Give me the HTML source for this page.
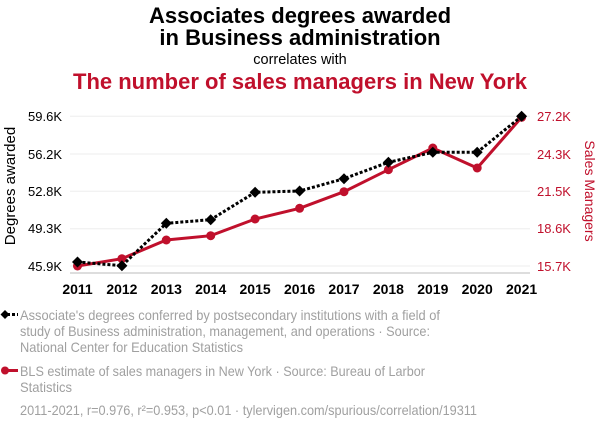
<!DOCTYPE html>
<html><head><meta charset="utf-8"><style>
body{margin:0;background:#fff;width:600px;height:430px;overflow:hidden}
svg text{font-family:"Liberation Sans",Arial,sans-serif}
</style></head><body>
<svg width="600" height="430" viewBox="0 0 600 430" xmlns="http://www.w3.org/2000/svg">
<text x="300" y="23" text-anchor="middle" font-size="22" font-weight="bold" fill="#000">Associates degrees awarded</text>
<text x="300" y="45" text-anchor="middle" font-size="22" font-weight="bold" fill="#000">in Business administration</text>
<text x="300" y="64" text-anchor="middle" font-size="14.5" fill="#000">correlates with</text>
<text x="300" y="89" text-anchor="middle" font-size="22" font-weight="bold" fill="#c0102c">The number of sales managers in New York</text>
<g stroke="#eee" stroke-width="1">
<line x1="70" x2="530" y1="116.3" y2="116.3"/><line x1="70" x2="530" y1="154" y2="154"/><line x1="70" x2="530" y1="191.3" y2="191.3"/><line x1="70" x2="530" y1="228.7" y2="228.7"/><line x1="70" x2="530" y1="266" y2="266"/>
</g>
<line x1="70" x2="530" y1="273" y2="273" stroke="#bbb"/>
<g font-size="13" fill="#000" text-anchor="end">
<text x="62" y="121">59.6K</text><text x="62" y="159">56.2K</text><text x="62" y="196">52.8K</text><text x="62" y="233">49.3K</text><text x="62" y="271">45.9K</text>
</g>
<g font-size="13" fill="#c0102c" text-anchor="start">
<text x="537" y="121">27.2K</text><text x="537" y="159">24.3K</text><text x="537" y="196">21.5K</text><text x="537" y="233">18.6K</text><text x="537" y="271">15.7K</text>
</g>
<text transform="translate(15,186) rotate(-90)" text-anchor="middle" font-size="15" fill="#000">Degrees awarded</text>
<text transform="translate(585,191) rotate(90)" text-anchor="middle" font-size="14" fill="#c0102c">Sales Managers</text>
<g font-size="14" font-weight="bold" fill="#000" text-anchor="middle">
<text x="77.5" y="294">2011</text><text x="121.9" y="294">2012</text><text x="166.3" y="294">2013</text><text x="210.7" y="294">2014</text><text x="255.1" y="294">2015</text><text x="299.6" y="294">2016</text><text x="344" y="294">2017</text><text x="388.4" y="294">2018</text><text x="432.8" y="294">2019</text><text x="477.2" y="294">2020</text><text x="521.6" y="294">2021</text>
</g>
<polyline fill="none" stroke="#c0102c" stroke-width="3" points="77.5,266 121.9,258.7 166.3,240 210.7,235.7 255.1,219 299.6,208.3 344,191.7 388.4,169.7 432.8,148 477.2,168 521.6,117.3"/>
<g fill="#c0102c">
<circle cx="77.5" cy="266" r="4.5"/><circle cx="121.9" cy="258.7" r="4.5"/><circle cx="166.3" cy="240" r="4.5"/><circle cx="210.7" cy="235.7" r="4.5"/><circle cx="255.1" cy="219" r="4.5"/><circle cx="299.6" cy="208.3" r="4.5"/><circle cx="344" cy="191.7" r="4.5"/><circle cx="388.4" cy="169.7" r="4.5"/><circle cx="432.8" cy="148" r="4.5"/><circle cx="477.2" cy="168" r="4.5"/><circle cx="521.6" cy="117.3" r="4.5"/>
</g>
<polyline fill="none" stroke="#000" stroke-width="3" stroke-dasharray="3,2" points="77.5,262 121.9,265.7 166.3,223.3 210.7,219.7 255.1,192.3 299.6,191 344,178.7 388.4,162.3 432.8,152.3 477.2,152.3 521.6,116.3"/>
<g fill="#000">
<path d="M77.5,256.5l5.5,5.5-5.5,5.5-5.5-5.5z"/><path d="M121.9,260.2l5.5,5.5-5.5,5.5-5.5-5.5z"/><path d="M166.3,217.8l5.5,5.5-5.5,5.5-5.5-5.5z"/><path d="M210.7,214.2l5.5,5.5-5.5,5.5-5.5-5.5z"/><path d="M255.1,186.8l5.5,5.5-5.5,5.5-5.5-5.5z"/><path d="M299.6,185.5l5.5,5.5-5.5,5.5-5.5-5.5z"/><path d="M344,173.2l5.5,5.5-5.5,5.5-5.5-5.5z"/><path d="M388.4,156.8l5.5,5.5-5.5,5.5-5.5-5.5z"/><path d="M432.8,146.8l5.5,5.5-5.5,5.5-5.5-5.5z"/><path d="M477.2,146.8l5.5,5.5-5.5,5.5-5.5-5.5z"/><path d="M521.6,110.8l5.5,5.5-5.5,5.5-5.5-5.5z"/>
</g>
<line x1="2" x2="18" y1="314.5" y2="314.5" stroke="#000" stroke-width="3" stroke-dasharray="3,2"/>
<path d="M5,310l4.5,4.5-4.5,4.5-4.5-4.5z" fill="#000"/>
<line x1="2" x2="18" y1="370.5" y2="370.5" stroke="#c0102c" stroke-width="3"/>
<circle cx="5" cy="370.5" r="4" fill="#c0102c"/>
<g font-size="14" fill="#a0a0a0">
<text x="20" y="320" textLength="420" lengthAdjust="spacingAndGlyphs">Associate's degrees conferred by postsecondary institutions with a field of</text>
<text x="20" y="336" textLength="410" lengthAdjust="spacingAndGlyphs">study of Business administration, management, and operations · Source:</text>
<text x="20" y="352" textLength="223" lengthAdjust="spacingAndGlyphs">National Center for Education Statistics</text>
<text x="20" y="376" textLength="405" lengthAdjust="spacingAndGlyphs">BLS estimate of sales managers in New York · Source: Bureau of Larbor</text>
<text x="20" y="392" textLength="52" lengthAdjust="spacingAndGlyphs">Statistics</text>
<text x="20" y="415" textLength="457" lengthAdjust="spacingAndGlyphs">2011-2021, r=0.976, r²=0.953, p&lt;0.01 · tylervigen.com/spurious/correlation/19311</text>
</g>
</svg>
</body></html>
